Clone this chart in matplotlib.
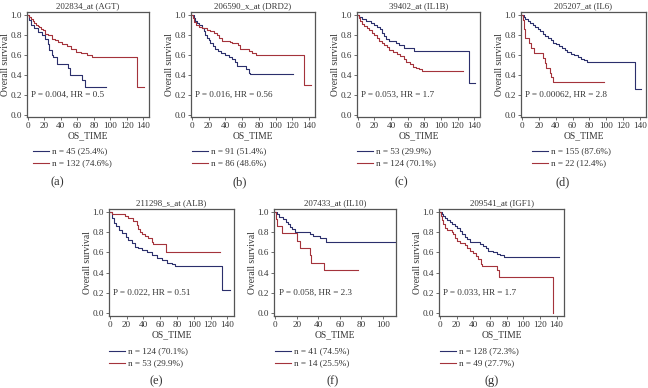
import matplotlib
matplotlib.use("Agg")
import matplotlib.pyplot as plt
from matplotlib.lines import Line2D

plt.rcParams['font.family'] = ['Liberation Serif', 'DejaVu Serif']

# ---------------- data ----------------
titles = ["202834_at (AGT)", "206590_x_at (DRD2)", "39402_at (IL1B)", "205207_at (IL6)",
          "211298_s_at (ALB)", "207433_at (IL10)", "209541_at (IGF1)"]
panel_tags = ["(a)", "(b)", "(c)", "(d)", "(e)", "(f)", "(g)"]
p_texts = ["P = 0.004, HR = 0.5", "P = 0.016, HR = 0.56", "P = 0.053, HR = 1.7",
           "P = 0.00062, HR = 2.8", "P = 0.022, HR = 0.51", "P = 0.058, HR = 2.3",
           "P = 0.033, HR = 1.7"]
blue_labels = ["n = 45 (25.4%)", "n = 91 (51.4%)", "n = 53 (29.9%)", "n = 155 (87.6%)",
               "n = 124 (70.1%)", "n = 41 (74.5%)", "n = 128 (72.3%)"]
red_labels = ["n = 132 (74.6%)", "n = 86 (48.6%)", "n = 124 (70.1%)", "n = 22 (12.4%)",
              "n = 53 (29.9%)", "n = 14 (25.5%)", "n = 49 (27.7%)"]

# (a) AGT
agt_blue_t = [0, 1, 4, 8, 12, 17, 21, 25, 26, 29, 31, 35, 49, 51, 66, 69, 95]
agt_blue_s = [1.0, 0.95, 0.90, 0.87, 0.83, 0.80, 0.76, 0.71, 0.645, 0.60, 0.58, 0.51, 0.465, 0.40, 0.35, 0.28, 0.28]
agt_red_t = [0, 2, 4, 6, 8, 10, 12, 14, 16, 18, 21, 25, 29, 33, 37, 41, 47, 52, 58, 64, 72, 78, 132, 141]
agt_red_s = [1.0, 0.98, 0.96, 0.935, 0.92, 0.90, 0.89, 0.877, 0.86, 0.845, 0.81, 0.795, 0.76, 0.745, 0.73, 0.71,
             0.685, 0.652, 0.63, 0.613, 0.596, 0.573, 0.28, 0.28]

# (b) DRD2
drd2_blue_t = [0, 2, 4, 6, 9, 12, 14, 16, 18, 20, 22, 25, 28, 31, 35, 40, 44, 48, 51, 54, 65, 68, 70, 121]
drd2_blue_s = [1.0, 0.97, 0.94, 0.92, 0.90, 0.87, 0.84, 0.80, 0.77, 0.75, 0.72, 0.69, 0.66, 0.64, 0.62, 0.60,
               0.58, 0.56, 0.53, 0.49, 0.46, 0.42, 0.41, 0.41]
drd2_red_t = [0, 1, 3, 5, 8, 12, 18, 22, 26, 30, 33, 36, 45, 48, 55, 58, 68, 72, 77, 134, 142]
drd2_red_s = [1.0, 0.97, 0.93, 0.90, 0.88, 0.87, 0.85, 0.84, 0.82, 0.80, 0.77, 0.74, 0.73, 0.72, 0.70, 0.66,
              0.64, 0.62, 0.60, 0.30, 0.30]

# (c) IL1B
il1b_blue_t = [0, 2, 5, 10, 16, 20, 23, 27, 29, 32, 34, 38, 46, 50, 55, 68, 134, 141]
il1b_blue_s = [1.0, 0.98, 0.96, 0.94, 0.92, 0.90, 0.88, 0.86, 0.82, 0.79, 0.76, 0.74, 0.72, 0.70, 0.67, 0.64,
               0.32, 0.32]
il1b_red_t = [0, 1, 3, 5, 8, 11, 14, 17, 20, 23, 26, 29, 32, 35, 38, 42, 47, 51, 55, 58, 63, 66, 70, 74, 77, 127]
il1b_red_s = [1.0, 0.97, 0.94, 0.91, 0.89, 0.87, 0.85, 0.82, 0.80, 0.77, 0.74, 0.72, 0.70, 0.68, 0.65, 0.63,
              0.61, 0.59, 0.56, 0.53, 0.51, 0.48, 0.47, 0.46, 0.44, 0.44]

# (d) IL6
il6_blue_t = [0, 2, 4, 7, 10, 13, 16, 19, 22, 25, 28, 31, 34, 37, 40, 44, 48, 51, 54, 58, 62, 66, 70, 73, 77,
              134, 141]
il6_blue_s = [1.0, 0.98, 0.96, 0.94, 0.92, 0.90, 0.88, 0.86, 0.84, 0.81, 0.79, 0.77, 0.75, 0.72, 0.71, 0.69,
              0.67, 0.65, 0.63, 0.61, 0.60, 0.58, 0.56, 0.55, 0.53, 0.26, 0.26]
il6_red_t = [0, 1, 2, 4, 8, 11, 14, 25, 27, 29, 33, 35, 37, 97]
il6_red_s = [1.0, 0.95, 0.86, 0.77, 0.72, 0.67, 0.62, 0.57, 0.52, 0.47, 0.42, 0.38, 0.33, 0.33]

# (e) ALB
alb_blue_t = [0, 3, 5, 7, 11, 15, 19, 22, 26, 30, 34, 38, 44, 50, 56, 62, 68, 74, 78, 134, 143]
alb_blue_s = [1.0, 0.94, 0.89, 0.86, 0.82, 0.79, 0.755, 0.72, 0.69, 0.654, 0.64, 0.62, 0.60, 0.57, 0.54, 0.52,
              0.50, 0.49, 0.47, 0.235, 0.235]
alb_red_t = [0, 2, 18, 22, 28, 32, 34, 36, 38, 42, 46, 50, 52, 67, 131]
alb_red_s = [1.0, 0.98, 0.96, 0.94, 0.91, 0.87, 0.83, 0.80, 0.78, 0.76, 0.74, 0.70, 0.68, 0.60, 0.60]

# (f) IL10
il10_blue_t = [0, 2, 4, 7, 10, 12, 14, 16, 18, 32, 35, 42, 47, 111]
il10_blue_s = [1.0, 0.98, 0.95, 0.93, 0.90, 0.88, 0.85, 0.83, 0.80, 0.78, 0.76, 0.74, 0.70, 0.70]
il10_red_t = [0, 0.5, 1.5, 6, 20, 23, 32, 33, 45, 77]
il10_red_s = [1.0, 0.93, 0.86, 0.79, 0.71, 0.64, 0.57, 0.50, 0.43, 0.43]

# (g) IGF1
igf1_blue_t = [0, 2, 4, 6, 9, 12, 15, 18, 21, 24, 27, 30, 33, 36, 48, 52, 55, 58, 64, 68, 72, 77, 143]
igf1_blue_s = [1.0, 0.98, 0.96, 0.94, 0.92, 0.90, 0.88, 0.86, 0.84, 0.81, 0.78, 0.75, 0.73, 0.70, 0.68, 0.66,
               0.64, 0.61, 0.60, 0.58, 0.57, 0.55, 0.55]
igf1_red_t = [0, 1, 2, 4, 6, 9, 14, 16, 18, 21, 24, 30, 33, 36, 40, 43, 46, 49, 51, 69, 71, 136]
igf1_red_s = [1.0, 0.96, 0.92, 0.88, 0.84, 0.82, 0.80, 0.78, 0.74, 0.71, 0.69, 0.67, 0.64, 0.61, 0.59, 0.56,
              0.53, 0.49, 0.47, 0.43, 0.36, 0.0]

blue_curves = [(agt_blue_t, agt_blue_s), (drd2_blue_t, drd2_blue_s), (il1b_blue_t, il1b_blue_s),
               (il6_blue_t, il6_blue_s), (alb_blue_t, alb_blue_s), (il10_blue_t, il10_blue_s),
               (igf1_blue_t, igf1_blue_s)]
red_curves = [(agt_red_t, agt_red_s), (drd2_red_t, drd2_red_s), (il1b_red_t, il1b_red_s),
              (il6_red_t, il6_red_s), (alb_red_t, alb_red_s), (il10_red_t, il10_red_s),
              (igf1_red_t, igf1_red_s)]
x_max = [147, 147, 147, 147, 148, 112, 149]
x_ticks_max = [140, 140, 140, 140, 140, 100, 140]

# ---------------- layout (pixels) ----------------
W, H = 648, 388
# left, right, top, bottom
boxes = [(27, 149, 12, 117), (191, 315, 12, 117), (357, 480, 12, 117), (521, 646, 12, 117),
         (109, 234, 209, 316), (274, 396, 209, 316), (439, 564, 209, 316)]
leg_offset = [6, 1, 0, 11, 0, 1, 1]
tag_x = [57, 240, 401, 563, 156, 333, 492]

BLUE = '#2b2f6c'
RED = '#a4333b'
TXT = '#333333'
SP = '#555555'
FS = 6.6

fig = plt.figure(figsize=(W / 100, H / 100), dpi=100)
fig.patch.set_facecolor('white')

for i in range(7):
    l, r, t, b = boxes[i]
    ax = fig.add_axes([l / W, 1 - b / H, (r - l) / W, (b - t) / H])
    bt, bs = blue_curves[i]
    rt, rs = red_curves[i]
    ax.step(bt, bs, where='post', color=BLUE, lw=0.8)
    ax.step(rt, rs, where='post', color=RED, lw=0.8)
    ax.set_xlim(-1, x_max[i])
    ax.set_ylim(-0.025, 1.025)
    ax.set_xticks(list(range(0, x_ticks_max[i] + 1, 20)))
    ax.set_yticks([0.0, 0.2, 0.4, 0.6, 0.8, 1.0])
    ax.set_yticklabels(["0.0", "0.2", "0.4", "0.6", "0.8", "1.0"])
    ax.tick_params(labelsize=FS, length=2.5, width=0.6, pad=1.2, colors=SP, labelcolor=TXT)
    for s in ax.spines.values():
        s.set_color(SP)
        s.set_linewidth(0.9)
    ax.set_xlabel("OS_TIME", fontsize=FS + 0.3, color=TXT, labelpad=0.5)
    ax.set_ylabel("Overall survival", fontsize=FS + 0.3, color=TXT, labelpad=0.5)
    ax.set_title(titles[i], fontsize=FS - 0.3, color=TXT, pad=3)
    ax.text(4, 0.2, p_texts[i], fontsize=FS, color=TXT, ha='left', va='center')

    # legend
    row1 = 151 if i < 4 else 351
    row2 = row1 + 12
    x0 = l + leg_offset[i]
    for yy, col, lab in [(row1, BLUE, blue_labels[i]), (row2, RED, red_labels[i])]:
        fig.add_artist(Line2D([x0 / W, (x0 + 16) / W], [1 - yy / H, 1 - yy / H], color=col, lw=0.8,
                              transform=fig.transFigure))
        fig.text((x0 + 19) / W, 1 - yy / H, lab, fontsize=FS, color=TXT, ha='left', va='center')

    ty = 182 if i < 4 else 381
    fig.text(tag_x[i] / W, 1 - ty / H, panel_tags[i], fontsize=9, color=TXT, ha='center', va='center')

fig.savefig("out.png", dpi=100, facecolor='white')
